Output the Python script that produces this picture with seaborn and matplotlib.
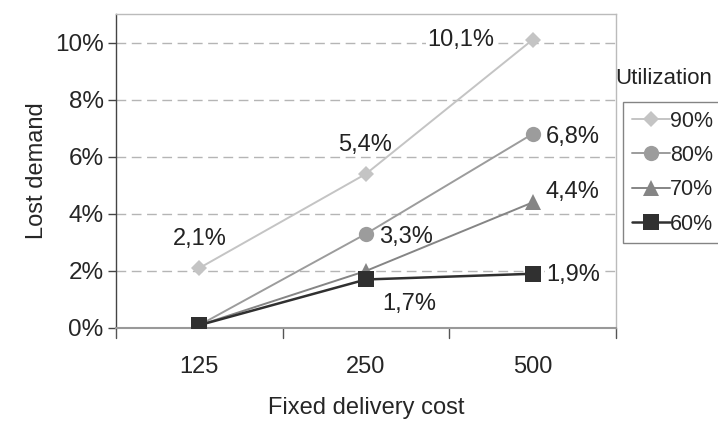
import matplotlib
matplotlib.use("Agg")
import matplotlib.pyplot as plt
import seaborn as sns
import pandas as pd

# Chart data
costs = ["125", "250", "500"]
util_levels = ["90%", "80%", "70%", "60%"]
lost_90 = [2.1, 5.4, 10.1]
lost_80 = [0.1, 3.3, 6.8]
lost_70 = [0.1, 2.0, 4.4]
lost_60 = [0.1, 1.7, 1.9]
y_ticks = [0, 2, 4, 6, 8, 10]

series = {"90%": lost_90, "80%": lost_80, "70%": lost_70, "60%": lost_60}

rows = []
for level in util_levels:
    for i, c in enumerate(costs):
        rows.append({"pos": i, "cost": c, "Utilization": level, "lost": series[level][i]})
df = pd.DataFrame(rows)

sns.set_theme(style="white")
plt.rcParams["font.family"] = ["Liberation Sans", "DejaVu Sans"]

FS = 17
LFS = 15.5
palette = {"90%": "#c4c4c4", "80%": "#9c9c9c", "70%": "#858585", "60%": "#303030"}
markers = {"90%": "D", "80%": "o", "70%": "^", "60%": "s"}
msizes = {"90%": 8, "80%": 11, "70%": 11, "60%": 12}
lwidths = {"90%": 1.4, "80%": 1.4, "70%": 1.4, "60%": 1.8}

fig = plt.figure(figsize=(7.18, 4.21), dpi=100)
ax = fig.add_axes([116 / 718, 1 - 328 / 421, 500 / 718, 314 / 421])

for level in util_levels:
    sub = df[df["Utilization"] == level]
    sns.lineplot(data=sub, x="pos", y="lost", ax=ax, color=palette[level],
                 marker=markers[level], markersize=msizes[level],
                 markeredgewidth=0, linewidth=lwidths[level],
                 label=level, legend=False, zorder=3)

ax.set_xlim(-0.5, 2.5)
ax.set_ylim(0, 11.0)
ax.set_yticks(y_ticks)
ax.set_yticklabels([f"{t}%" for t in y_ticks], fontsize=FS + 0.5)
ax.set_xticks(range(len(costs)))
ax.set_xticklabels(costs, fontsize=FS)
ax.tick_params(axis="x", length=0, pad=20)
ax.tick_params(axis="y", length=6, width=1, color="#444444", direction="out", pad=3, left=True)

# category separators on the x axis
for b in [-0.5, 0.5, 1.5, 2.5]:
    ax.plot([b, b], [0, -0.35], color="#555555", lw=1, clip_on=False, zorder=1)

for t in y_ticks[1:]:
    ax.axhline(t, color="#b5b5b5", lw=1, ls=(0, (7, 4)), zorder=1)

for s in ["top", "right"]:
    ax.spines[s].set_color("#bbbbbb")
    ax.spines[s].set_linewidth(1)
ax.spines["bottom"].set_color("#999999")
ax.spines["bottom"].set_linewidth(1.5)
ax.spines["left"].set_color("#444444")
ax.spines["left"].set_linewidth(1)

ax.set_xlabel("Fixed delivery cost", fontsize=FS, labelpad=14)
ax.set_ylabel("Lost demand", fontsize=FS, labelpad=5)

def fmt(v):
    return f"{v:.1f}%".replace(".", ",")

label_kw = dict(fontsize=FS, color="#222222", zorder=4, textcoords="offset pixels",
                ha="center", va="center")
white = dict(fc="white", ec="none", pad=1)
ax.annotate(fmt(lost_90[0]), (0, lost_90[0]), xytext=(0, 29), **label_kw)
ax.annotate(fmt(lost_90[1]), (1, lost_90[1]), xytext=(-1, 29), **label_kw)
ax.annotate(fmt(lost_90[2]), (2, lost_90[2]), xytext=(-72, 0), bbox=white, **label_kw)
ax.annotate(fmt(lost_80[1]), (1, lost_80[1]), xytext=(40, -3), **label_kw)
ax.annotate(fmt(lost_80[2]), (2, lost_80[2]), xytext=(40, -3), **label_kw)
ax.annotate(fmt(lost_70[2]), (2, lost_70[2]), xytext=(40, 10), **label_kw)
ax.annotate(fmt(lost_60[1]), (1, lost_60[1]), xytext=(43, -25), **label_kw)
ax.annotate(fmt(lost_60[2]), (2, lost_60[2]), xytext=(41, -1), bbox=white, **label_kw)

handles, labels = ax.get_legend_handles_labels()
fig.text(664 / 718, 1 - 78 / 421, "Utilization", fontsize=LFS + 0.5, ha="center", va="center", color="#222222")
leg = fig.legend(handles, labels, loc="upper left", bbox_to_anchor=(623 / 718, 1 - 102 / 421),
                 fontsize=LFS, frameon=True, handlelength=1.8, handletextpad=0.0,
                 labelspacing=0.62, borderpad=0.4, borderaxespad=0, fancybox=False)
leg.get_frame().set_edgecolor("#666666")
leg.get_frame().set_linewidth(1)

fig.savefig("out.png", dpi=100, facecolor="white")
